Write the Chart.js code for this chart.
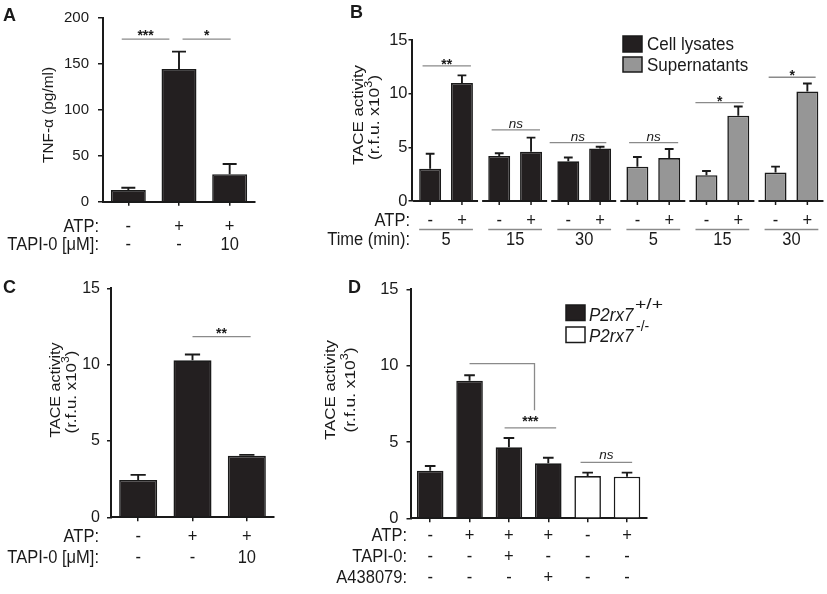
<!DOCTYPE html>
<html><head><meta charset="utf-8">
<script src="https://cdn.jsdelivr.net/npm/chart.js@4"></script>
<style>
html,body{margin:0;padding:0;background:#fff;width:827px;height:594px;overflow:hidden}
canvas{position:absolute;left:0;top:0}
</style></head>
<body>
<canvas id="cA" width="827" height="594"></canvas>
<canvas id="cB" width="827" height="594"></canvas>
<canvas id="cC" width="827" height="594"></canvas>
<canvas id="cD" width="827" height="594"></canvas>
<script>
// ---------------- DATA ----------------
// Panel A : TNF-alpha
const catsA = ['Control', 'ATP', 'ATP + TAPI-0'];
const valsA = [12.7, 144.4, 30.0];
const semA = [2.5, 19.0, 11.0];
const ticksA = [0, 50, 100, 150, 200];
const atpA = ['-', '+', '+'];
const tapiA = ['-', '-', '10'];
const sigA = [[-0.13, 0.81, 177, '***'], [1.07, 2.02, 177, '*']];

// Panel B : TACE activity, time course
const groupsB = ['5', '15', '30', '5', '15', '30'];
const fractionB = ['Cell lysates', 'Cell lysates', 'Cell lysates', 'Supernatants', 'Supernatants', 'Supernatants'];
const minusB = [3.0, 4.2, 3.7, 3.2, 2.4, 2.65];
const plusB = [11.0, 4.6, 4.9, 4.0, 7.95, 10.2];
const semMinusB = [1.4, 0.25, 0.35, 0.9, 0.4, 0.55];
const semPlusB = [0.7, 1.3, 0.15, 0.85, 0.85, 0.75];
const atpB = ['-', '+'];
const ticksB = [0, 5, 10, 15];
const sigB = [[-0.34, 0.36, 12.58, '**'], [0.66, 1.36, 6.62, 'ns'], [1.5, 2.32, 5.43, 'ns'],
              [2.65, 3.36, 5.43, 'ns'], [3.61, 4.31, 9.16, '*'], [4.67, 5.35, 11.53, '*']];

// Panel C : TACE activity + TAPI-0
const catsC = ['Control', 'ATP', 'ATP + TAPI-0'];
const valsC = [2.45, 10.28, 4.03];
const semC = [0.33, 0.38, 0.06];
const ticksC = [0, 5, 10, 15];
const atpC = ['-', '+', '+'];
const tapiC = ['-', '-', '10'];
const sigC = [[1.0, 2.07, 11.83, '**']];

// Panel D : P2rx7 genotypes
const catsD = ['WT', 'WT ATP', 'WT ATP TAPI-0', 'WT ATP A438079', 'KO', 'KO ATP'];
const genotypeD = ['+/+', '+/+', '+/+', '+/+', '-/-', '-/-'];
const valsD = [3.12, 9.02, 4.65, 3.6, 2.77, 2.73];
const semD = [0.31, 0.35, 0.61, 0.37, 0.22, 0.26];
const ticksD = [0, 5, 10, 15];
const atpD = ['-', '+', '+', '+', '-', '+'];
const tapiD = ['-', '-', '+', '-', '-', '-'];
const a438D = ['-', '-', '-', '+', '-', '-'];
const sigD = [[1.89, 3.2, 5.92, '***'], [3.82, 5.13, 3.66, 'ns']];
const bracketD = [1, 2.65, 10.13, 7.08];

// ---------------- STYLE / HELPERS ----------------
const FONT = '"Liberation Sans", Arial, Helvetica, sans-serif';
const INK = '#1a1a1a';
const BLACK = '#231f20';
const GREY = '#969696';
const SIGC = '#8a8a8a';

function T(ctx, s, x, y, o) {
  o = o || {};
  const size = o.size || 16;
  ctx.save();
  ctx.font = (o.italic ? 'italic ' : '') + (o.bold ? 'bold ' : '') + size + 'px ' + FONT;
  ctx.fillStyle = o.color || INK;
  ctx.textAlign = o.align || 'center';
  ctx.textBaseline = o.baseline || 'alphabetic';
  ctx.translate(x, y);
  let sx = 1;
  if (o.width) sx = o.width / ctx.measureText(s).width;
  ctx.scale(sx, o.sy || 1);
  ctx.fillText(s, 0, 0);
  ctx.restore();
}

function rotTitle(ctx, segs, cx, cy, size, len) {
  ctx.save();
  ctx.translate(cx, cy);
  ctx.rotate(-Math.PI / 2);
  let w = 0;
  const fs = s => (s.sup ? Math.round(size * 0.72) : size) + 'px ' + FONT;
  segs.forEach(s => { ctx.font = fs(s); s.w = ctx.measureText(s.t).width; w += s.w; });
  ctx.scale(len / w, 1);
  ctx.fillStyle = INK; ctx.textBaseline = 'middle'; ctx.textAlign = 'left';
  let x = -w / 2;
  segs.forEach(s => { ctx.font = fs(s); ctx.fillText(s.t, x, s.sup ? -size * 0.38 : 0); x += s.w; });
  ctx.restore();
}
const taceSegs = () => [{ t: 'TACE activity' }];
const rfuSegs = () => [{ t: '(r.f.u. x10' }, { t: '3', sup: true }, { t: ')' }];

function drawErr(chart, di, sems) {
  const ctx = chart.ctx, y = chart.scales.y, meta = chart.getDatasetMeta(di), data = chart.data.datasets[di].data;
  ctx.save(); ctx.strokeStyle = INK; ctx.lineWidth = 1.9;
  meta.data.forEach((el, i) => {
    const top = y.getPixelForValue(data[i] + sems[i]);
    const hw = el.width * 0.2;
    ctx.beginPath();
    ctx.moveTo(el.x, el.y); ctx.lineTo(el.x, top);
    ctx.moveTo(el.x - hw, top); ctx.lineTo(el.x + hw, top);
    ctx.stroke();
  });
  ctx.restore();
}

function drawSig(chart, s, above) {
  const [from, to, val, label] = s;
  const ctx = chart.ctx, x = chart.scales.x, y = chart.scales.y;
  const x0 = x.getPixelForValue(from), x1 = x.getPixelForValue(to), yy = y.getPixelForValue(val);
  ctx.save(); ctx.strokeStyle = SIGC; ctx.lineWidth = 1.3;
  ctx.beginPath(); ctx.moveTo(x0, yy); ctx.lineTo(x1, yy); ctx.stroke(); ctx.restore();
  const ns = label === 'ns';
  const size = ns ? 13.5 : 14;
  const gc = ns ? 0.26 * size : 0.57 * size;
  T(ctx, label, (x0 + x1) / 2, yy - (ns ? above.ns : above.star) + gc, { size: size, italic: ns, bold: !ns });
}

function drawRow(ctx, label, items, xs, yRow, right) {
  T(ctx, label, right, yRow, { size: 16.5, align: 'right', baseline: 'middle', sy: 1.08 });
  items.forEach((s, i) => T(ctx, s, xs[i], yRow, { size: 16.5, baseline: 'middle', sy: 1.08 }));
}

function baseOptions(o) {
  return {
    responsive: false, animation: false, devicePixelRatio: 1,
    layout: { autoPadding: false, padding: { left: o.left - o.yw, top: o.top, right: 827 - o.right, bottom: 594 - o.bottom - 10 } },
    plugins: { legend: { display: false }, tooltip: { enabled: false } },
    datasets: { bar: { categoryPercentage: o.cat, barPercentage: o.bar, borderWidth: 1.6, borderColor: INK } },
    scales: {
      x: {
        type: 'category', offset: true, ticks: { display: false },
        grid: { display: o.xgrid !== false, drawOnChartArea: false, drawTicks: true, tickLength: 4, offset: false, color: INK, lineWidth: 1.5 },
        border: { display: o.xgrid !== false, color: INK, width: 2 },
        afterFit: s => { s.height = 10; }
      },
      y: {
        min: o.min, max: o.max,
        afterBuildTicks: s => { s.ticks = o.ticks.map(v => ({ value: v })); },
        ticks: { font: { family: FONT, size: o.tsize }, color: INK, padding: o.tpad },
        grid: { drawOnChartArea: false, drawTicks: true, tickLength: o.tl, color: INK, lineWidth: 1.5 },
        border: { display: true, color: INK, width: 2 },
        afterFit: s => { s.width = o.yw; }
      }
    }
  };
}
const xsOf = (chart, di) => chart.getDatasetMeta(di).data.map(el => el.x);

// ---------------- PANEL A ----------------
new Chart(document.getElementById('cA'), {
  type: 'bar',
  data: { labels: catsA, datasets: [{ label: 'TNF-α', data: valsA, backgroundColor: BLACK }] },
  options: baseOptions({ left: 103, right: 255, top: 16.7, bottom: 201.7, yw: 40, cat: 1, bar: 0.69, min: 0, max: 200, ticks: ticksA, tsize: 15, tpad: 9, tl: 5 }),
  plugins: [{
    id: 'extrasA',
    afterDatasetsDraw(chart) {
      const ctx = chart.ctx;
      drawErr(chart, 0, semA);
      sigA.forEach(s => drawSig(chart, s, { star: 7, ns: 6 }));
      const xs = xsOf(chart, 0);
      drawRow(ctx, 'ATP:', atpA, xs, 227, 99);
      drawRow(ctx, 'TAPI-0 [μM]:', tapiA, xs, 245.5, 99);
      T(ctx, 'A', 3, 20.5, { size: 18, bold: true, align: 'left' });
      rotTitle(ctx, [{ t: 'TNF-α (pg/ml)' }], 48.5, 115, 15, 96);
    }
  }]
});

// ---------------- PANEL B ----------------
const colB = fractionB.map(f => f === 'Cell lysates' ? BLACK : GREY);
new Chart(document.getElementById('cB'), {
  type: 'bar',
  data: {
    labels: groupsB,
    datasets: [
      { label: 'ATP -', data: minusB, backgroundColor: colB },
      { label: 'ATP +', data: plusB, backgroundColor: colB }
    ]
  },
  options: baseOptions({ left: 411.5, right: 826, top: 40, bottom: 201, yw: 30, cat: 0.921, bar: 0.69, min: 0, max: 15, ticks: ticksB, tsize: 16.5, tpad: 1, tl: 3, xgrid: false }),
  plugins: [{
    id: 'extrasB',
    afterDatasetsDraw(chart) {
      const ctx = chart.ctx, x = chart.scales.x, area = chart.chartArea;
      // broken x axis segments + tick marks at bars
      ctx.save(); ctx.strokeStyle = INK; ctx.lineWidth = 2;
      groupsB.forEach((g, i) => {
        const c = x.getPixelForValue(i);
        ctx.beginPath(); ctx.moveTo(c - 33, area.bottom); ctx.lineTo(c + 32, area.bottom); ctx.stroke();
      });
      ctx.lineWidth = 1.5;
      [0, 1].forEach(d => xsOf(chart, d).forEach(px => {
        ctx.beginPath(); ctx.moveTo(px, area.bottom); ctx.lineTo(px, area.bottom + 4); ctx.stroke();
      }));
      ctx.restore();
      drawErr(chart, 0, semMinusB);
      drawErr(chart, 1, semPlusB);
      sigB.forEach(s => drawSig(chart, s, { star: 5, ns: 5.5 }));
      // rows
      const m0 = chart.getDatasetMeta(0).data, m1 = chart.getDatasetMeta(1).data;
      T(ctx, 'ATP:', 410, 221, { size: 16.5, align: 'right', baseline: 'middle', sy: 1.08 });
      T(ctx, 'Time (min):', 410, 240.5, { size: 16.5, align: 'right', baseline: 'middle', sy: 1.08 });
      groupsB.forEach((g, i) => {
        T(ctx, atpB[0], m0[i].x, 221, { size: 16.5, baseline: 'middle', sy: 1.08 });
        T(ctx, atpB[1], m1[i].x, 221, { size: 16.5, baseline: 'middle', sy: 1.08 });
        ctx.save(); ctx.strokeStyle = SIGC; ctx.lineWidth = 1.3;
        ctx.beginPath(); ctx.moveTo(m0[i].x - m0[i].width / 2, 229.5); ctx.lineTo(m1[i].x + m1[i].width / 2, 229.5); ctx.stroke();
        ctx.restore();
        T(ctx, g, x.getPixelForValue(i), 240.5, { size: 16.5, baseline: 'middle', sy: 1.08 });
      });
      // legend
      ctx.save();
      ctx.lineWidth = 1.5; ctx.strokeStyle = INK;
      ctx.fillStyle = BLACK; ctx.fillRect(623, 36, 19, 16); ctx.strokeRect(623, 36, 19, 16);
      ctx.fillStyle = GREY; ctx.fillRect(623, 57, 19, 15); ctx.strokeRect(623, 57, 19, 15);
      ctx.restore();
      T(ctx, 'Cell lysates', 647, 50, { size: 17, align: 'left', sy: 1.06 });
      T(ctx, 'Supernatants', 647, 71, { size: 17, align: 'left', sy: 1.06 });
      T(ctx, 'B', 350, 17.5, { size: 18, bold: true, align: 'left' });
      rotTitle(ctx, taceSegs(), 359, 115, 15, 100);
      rotTitle(ctx, rfuSegs(), 374.5, 117.5, 15, 85);
    }
  }]
});

// ---------------- PANEL C ----------------
new Chart(document.getElementById('cC'), {
  type: 'bar',
  data: { labels: catsC, datasets: [{ label: 'TACE activity', data: valsC, backgroundColor: BLACK }] },
  options: baseOptions({ left: 111, right: 274, top: 288.3, bottom: 517.3, yw: 30, cat: 1, bar: 0.70, min: 0, max: 15, ticks: ticksC, tsize: 16, tpad: 7, tl: 4 }),
  plugins: [{
    id: 'extrasC',
    afterDatasetsDraw(chart) {
      const ctx = chart.ctx;
      drawErr(chart, 0, semC);
      sigC.forEach(s => drawSig(chart, s, { star: 6.5, ns: 6 }));
      const xs = xsOf(chart, 0);
      drawRow(ctx, 'ATP:', atpC, xs, 537, 99);
      drawRow(ctx, 'TAPI-0 [μM]:', tapiC, xs, 558.5, 99);
      T(ctx, 'C', 3, 292.5, { size: 18, bold: true, align: 'left' });
      rotTitle(ctx, taceSegs(), 56, 390, 15, 95);
      rotTitle(ctx, rfuSegs(), 72, 392, 15, 83);
    }
  }]
});

// ---------------- PANEL D ----------------
const colD = genotypeD.map(g => g === '+/+' ? BLACK : '#ffffff');
new Chart(document.getElementById('cD'), {
  type: 'bar',
  data: { labels: catsD, datasets: [{ label: 'TACE activity', data: valsD, backgroundColor: colD }] },
  options: baseOptions({ left: 410.5, right: 646.7, top: 289.4, bottom: 518.3, yw: 30, cat: 1, bar: 0.675, min: 0, max: 15, ticks: ticksD, tsize: 16.5, tpad: 8, tl: 4 }),
  plugins: [{
    id: 'extrasD',
    afterDatasetsDraw(chart) {
      const ctx = chart.ctx, x = chart.scales.x, y = chart.scales.y;
      drawErr(chart, 0, semD);
      // bracket
      const bx0 = x.getPixelForValue(bracketD[0]), bx1 = x.getPixelForValue(bracketD[1]);
      const by0 = y.getPixelForValue(bracketD[2]), by1 = y.getPixelForValue(bracketD[3]);
      ctx.save(); ctx.strokeStyle = SIGC; ctx.lineWidth = 1.3;
      ctx.beginPath(); ctx.moveTo(bx0, by0); ctx.lineTo(bx1, by0); ctx.lineTo(bx1, by1); ctx.stroke(); ctx.restore();
      sigD.forEach(s => drawSig(chart, s, { star: 9.5, ns: 6.5 }));
      const xs = xsOf(chart, 0);
      drawRow(ctx, 'ATP:', atpD, xs, 536.5, 407);
      drawRow(ctx, 'TAPI-0:', tapiD, xs, 557, 407);
      drawRow(ctx, 'A438079:', a438D, xs, 578, 407);
      // legend
      ctx.save(); ctx.lineWidth = 1.5; ctx.strokeStyle = INK;
      ctx.fillStyle = BLACK; ctx.fillRect(566, 305, 19, 15.5); ctx.strokeRect(566, 305, 19, 15.5);
      ctx.fillStyle = '#ffffff'; ctx.fillRect(566, 327, 19, 15.5); ctx.strokeRect(566, 327, 19, 15.5);
      ctx.restore();
      T(ctx, 'P2rx7', 589, 320.5, { size: 17, italic: true, align: 'left', sy: 1.05 });
      T(ctx, '+/+', 635, 309, { size: 14, align: 'left', width: 28 });
      T(ctx, 'P2rx7', 589, 341.5, { size: 17, italic: true, align: 'left', sy: 1.05 });
      T(ctx, '-/-', 636, 330.5, { size: 14, align: 'left' });
      T(ctx, 'D', 348, 292.5, { size: 18, bold: true, align: 'left' });
      rotTitle(ctx, taceSegs(), 331, 390, 15, 100);
      rotTitle(ctx, rfuSegs(), 351, 390, 15, 85);
    }
  }]
});
</script>
</body></html>
